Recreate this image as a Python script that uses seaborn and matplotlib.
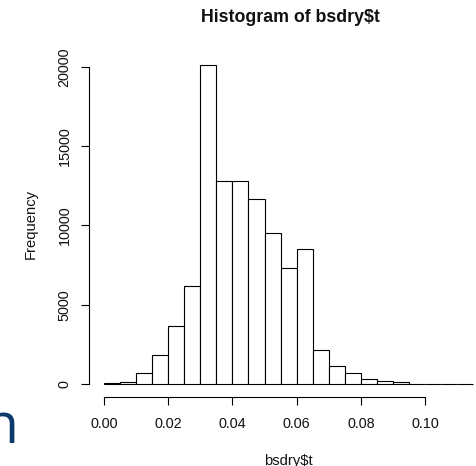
import matplotlib
matplotlib.use("Agg")
import matplotlib.pyplot as plt
import seaborn as sns
import numpy as np

# ---- data ----
breaks = [0.000, 0.005, 0.010, 0.015, 0.020, 0.025, 0.030, 0.035, 0.040, 0.045,
          0.050, 0.055, 0.060, 0.065, 0.070, 0.075, 0.080, 0.085, 0.090, 0.095,
          0.100, 0.105, 0.110, 0.115]
counts = [60, 150, 690, 1810, 3640, 6180, 20150, 12800, 12790, 11670,
          9545, 7340, 8500, 2125, 1155, 675, 335, 170, 105, 30,
          12, 5, 2]
x_ticks = [0.00, 0.02, 0.04, 0.06, 0.08, 0.10]
x_tick_labels = ["0.00", "0.02", "0.04", "0.06", "0.08", "0.10"]
y_ticks = [0, 5000, 10000, 15000, 20000]
y_tick_labels = ["0", "5000", "10000", "15000", "20000"]
title = "Histogram of bsdry$t"
xlabel = "bsdry$t"
ylabel = "Frequency"

mids = [(a + b) / 2 for a, b in zip(breaks[:-1], breaks[1:])]

sns.set_style("white")
plt.rcParams["font.family"] = ["Liberation Sans", "DejaVu Sans"]

W, H = 477, 466
fig = plt.figure(figsize=(W / 100, H / 100), dpi=100)
fig.patch.set_facecolor("white")

# plot region in pixels (R style, 4% padding)
left_px, right_px, top_px, bottom_px = 89.2, 488.0, 51.8, 396.8
ax = fig.add_axes([left_px / W, 1 - bottom_px / H,
                   (right_px - left_px) / W, (bottom_px - top_px) / H])
ax.set_facecolor("none")

sns.histplot(x=mids, weights=counts, bins=breaks, ax=ax,
             color="white", edgecolor="black", linewidth=0.8, alpha=1.0)

span_x = breaks[-1] - breaks[0]
ax.set_xlim(breaks[0] - 0.04 * span_x, breaks[-1] + 0.04 * span_x)
ymax = max(counts)
ax.set_ylim(-0.04 * ymax, ymax * 1.04)

ax.set_xticks(x_ticks)
ax.set_xticklabels(x_tick_labels, fontsize=10.4)
ax.set_yticks(y_ticks)
ax.set_yticklabels(y_tick_labels, fontsize=10.4, rotation=90, va="center")
ax.tick_params(axis="both", direction="out", length=5.8, width=0.8,
               color="black", labelcolor="#111111",
               bottom=True, left=True, top=False, right=False)
ax.tick_params(axis="x", pad=8.5)
ax.tick_params(axis="y", pad=7)

for s in ["top", "right"]:
    ax.spines[s].set_visible(False)
ax.spines["left"].set_bounds(y_ticks[0], y_ticks[-1])
ax.spines["bottom"].set_bounds(x_ticks[0], x_ticks[-1])
for s in ["left", "bottom"]:
    ax.spines[s].set_linewidth(0.8)
    ax.spines[s].set_color("black")
ax.set_xlabel("")
ax.set_ylabel("")

fig.text(290 / W, 1 - 17 / H, title, ha="center", va="center",
         fontsize=12.8, fontweight="bold", color="#111111")
fig.text(288 / W, 1 - 465.5 / H, xlabel, ha="center", va="baseline",
         fontsize=10.6, color="#111111")
fig.text(31 / W, 1 - 224 / H, ylabel, ha="center", va="center",
         rotation=90, fontsize=10.6, color="#111111")

# partial blue glyph at bottom-left of the reference
fig.text(-17 / W, 1 - 443 / H, "n", ha="left", va="baseline",
         fontsize=41, color="#0b3a6b", family=["Open Sans", "DejaVu Sans"])

fig.savefig("out.png", dpi=100, facecolor="white")
